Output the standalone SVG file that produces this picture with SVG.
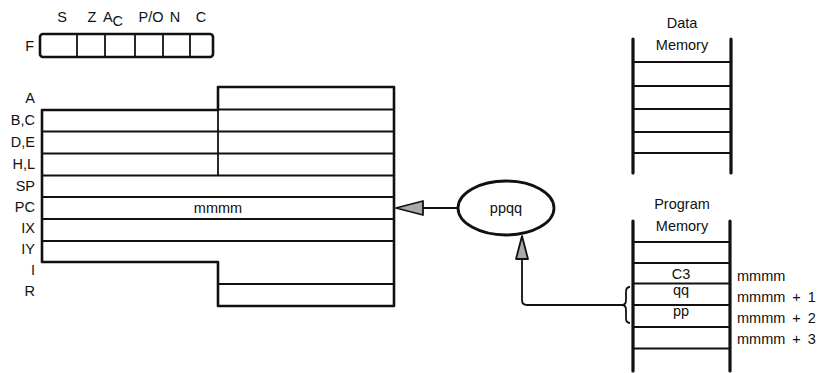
<svg xmlns="http://www.w3.org/2000/svg" width="833" height="373" viewBox="0 0 833 373">
<style>
text{font-family:"Liberation Sans",Arial,sans-serif;font-size:14.5px;fill:#111}
.lbl{text-anchor:end}
.mid{text-anchor:middle}
.out{fill:none;stroke:#111;stroke-width:2.6;stroke-linejoin:round}
.ln{fill:none;stroke:#111;stroke-width:1.8}
.rail{fill:none;stroke:#111;stroke-width:3.2;stroke-linecap:round}
.head{fill:#aaa;stroke:#111;stroke-width:1.8;stroke-linejoin:round}
</style>
<rect width="833" height="373" fill="#fff"/>

<g id="flags">
  <text x="62" y="22" class="mid">S</text>
  <text x="92" y="22" class="mid">Z</text>
  <text x="113" y="22" class="mid">A<tspan dy="4">C</tspan></text>
  <text x="151" y="22" class="mid">P/O</text>
  <text x="175" y="22" class="mid">N</text>
  <text x="201" y="22" class="mid">C</text>
  <text x="34" y="51" class="lbl">F</text>
  <rect x="40" y="34" width="173" height="23" rx="3" class="out"/>
  <line x1="77" y1="35" x2="77" y2="56" class="ln"/>
  <line x1="105" y1="35" x2="105" y2="56" class="ln"/>
  <line x1="135" y1="35" x2="135" y2="56" class="ln"/>
  <line x1="163" y1="35" x2="163" y2="56" class="ln"/>
  <line x1="190" y1="35" x2="190" y2="56" class="ln"/>
</g>

<g id="registers">
  <text x="35" y="103" class="lbl">A</text>
  <text x="35" y="125" class="lbl">B,C</text>
  <text x="35" y="147" class="lbl">D,E</text>
  <text x="35" y="169" class="lbl">H,L</text>
  <text x="35" y="191" class="lbl">SP</text>
  <text x="35" y="212" class="lbl">PC</text>
  <text x="35" y="233" class="lbl">IX</text>
  <text x="35" y="254" class="lbl">IY</text>
  <text x="35" y="275" class="lbl">I</text>
  <text x="35" y="296" class="lbl">R</text>
  <path d="M42 110 H218 V87 H394 V306 H218 V262 H42 Z" class="out"/>
  <line x1="218" y1="87" x2="218" y2="175.5" class="ln"/>
  <line x1="218" y1="109.5" x2="394" y2="109.5" class="ln"/>
  <line x1="42" y1="131.5" x2="394" y2="131.5" class="ln"/>
  <line x1="42" y1="153.5" x2="394" y2="153.5" class="ln"/>
  <line x1="42" y1="175.5" x2="394" y2="175.5" class="ln"/>
  <line x1="42" y1="197" x2="394" y2="197" class="ln"/>
  <line x1="42" y1="219" x2="394" y2="219" class="ln"/>
  <line x1="42" y1="241" x2="394" y2="241" class="ln"/>
  <line x1="218" y1="284" x2="394" y2="284" class="ln"/>
  <text x="218" y="213" class="mid">mmmm</text>
</g>

<g id="ppqq">
  <ellipse cx="506" cy="208" rx="48" ry="27" fill="#fff" stroke="#111" stroke-width="2.8"/>
  <text x="506" y="213" class="mid" font-size="15.5">ppqq</text>
</g>

<g id="data-memory">
  <text x="682" y="28" class="mid">Data</text>
  <text x="682" y="50" class="mid">Memory</text>
  <line x1="633" y1="39" x2="633" y2="173" class="rail"/>
  <line x1="731" y1="39" x2="731" y2="173" class="rail"/>
  <line x1="633" y1="62" x2="731" y2="62" class="ln"/>
  <line x1="633" y1="86" x2="731" y2="86" class="ln"/>
  <line x1="633" y1="109" x2="731" y2="109" class="ln"/>
  <line x1="633" y1="132" x2="731" y2="132" class="ln"/>
  <line x1="633" y1="153" x2="731" y2="153" class="ln"/>
</g>

<g id="program-memory">
  <text x="682" y="209" class="mid">Program</text>
  <text x="682" y="231" class="mid">Memory</text>
  <line x1="633" y1="221" x2="633" y2="371" class="rail"/>
  <line x1="730" y1="221" x2="730" y2="371" class="rail"/>
  <line x1="633" y1="242" x2="730" y2="242" class="ln"/>
  <line x1="633" y1="263" x2="730" y2="263" class="ln"/>
  <line x1="633" y1="283.5" x2="730" y2="283.5" class="ln"/>
  <line x1="633" y1="305" x2="730" y2="305" class="ln"/>
  <line x1="633" y1="327" x2="730" y2="327" class="ln"/>
  <line x1="633" y1="348.5" x2="730" y2="348.5" class="ln"/>
  <text x="681" y="279" class="mid">C3</text>
  <text x="681" y="295" class="mid">qq</text>
  <text x="681" y="316" class="mid">pp</text>
  <text x="737" y="281" word-spacing="3">mmmm</text>
  <text x="737" y="302" word-spacing="3">mmmm + 1</text>
  <text x="737" y="323" word-spacing="3">mmmm + 2</text>
  <text x="737" y="344" word-spacing="3">mmmm + 3</text>
</g>

<g id="connectors">
  <line x1="458" y1="208" x2="422" y2="208" class="ln"/>
  <path d="M396 208 L423 201 L423 215 Z" class="head"/>
  <path d="M622 305 H527 Q522 305 522 300 V258" class="ln"/>
  <path d="M522 236 L516 259 L528 259 Z" class="head"/>
  <path d="M630 287 Q626 287 626 292 L626 300 Q626 305 622 305 Q626 305 626 310 L626 318 Q626 323 630 323" class="ln" stroke-width="1.5"/>
</g>
</svg>
